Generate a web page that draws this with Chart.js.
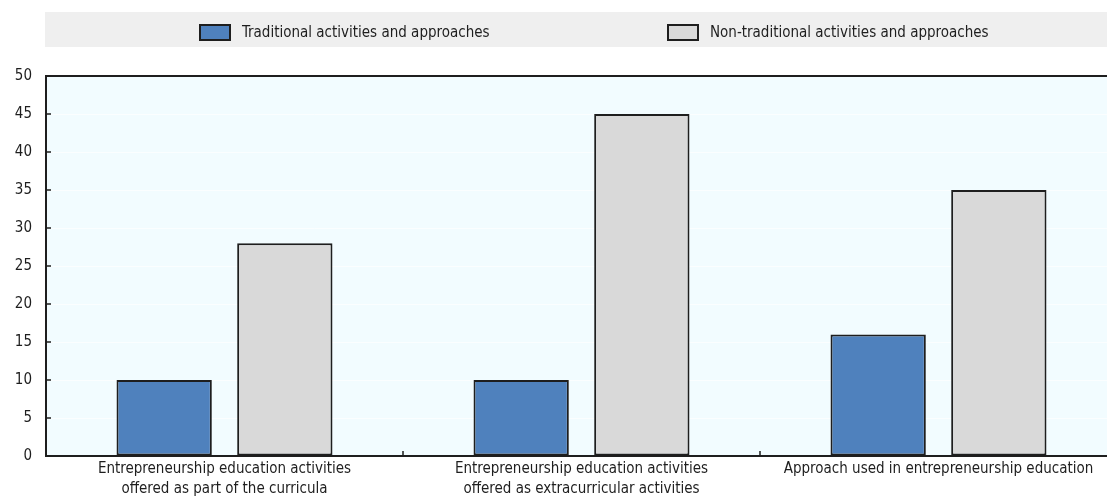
<!DOCTYPE html>
<html>
<head>
<meta charset="utf-8">
<script src="https://cdn.jsdelivr.net/npm/chart.js@4/dist/chart.umd.min.js"></script>
<style>
  html, body { margin: 0; padding: 0; background: #fff; overflow: hidden; }
  #wrap { width: 1107px; height: 499px; overflow: hidden; }
</style>
</head>
<body>
<div id="wrap"><canvas id="chart" width="1117" height="499"></canvas></div>
<script>
// --- data ---
const categories = [
  ['Entrepreneurship education activities', 'offered as part of the curricula'],
  ['Entrepreneurship education activities', 'offered as extracurricular activities'],
  ['Approach used in entrepreneurship education']
];
const seriesNames = ['Traditional activities and approaches', 'Non-traditional activities and approaches'];
const traditional = [10, 10, 16];
const nonTraditional = [28, 45, 35];
const yMin = 0, yMax = 50, yStep = 5;

const FONT = "'Liberation Sans Narrow', 'Arial Narrow', 'DejaVu Sans Condensed', sans-serif";
const INK = '#1e1e1e';
const PLOT_BG = '#f2fcff';

Chart.defaults.font.family = FONT;
Chart.defaults.font.size = 15;
Chart.defaults.color = INK;

// background band + custom legend + plot fill
const decor = {
  id: 'decor',
  beforeDraw(chart) {
    const { ctx, chartArea: a } = chart;
    ctx.save();
    ctx.fillStyle = '#efefef';
    ctx.fillRect(45, 12, chart.width - 45, 35);
    ctx.fillStyle = PLOT_BG;
    ctx.fillRect(a.left, a.top, a.right - a.left, a.bottom - a.top);

    ctx.font = '15px ' + FONT;
    ctx.textBaseline = 'middle';
    const xs = [200, 668];
    chart.data.datasets.forEach((ds, i) => {
      ctx.fillStyle = ds.backgroundColor;
      ctx.fillRect(xs[i], 25, 30, 15);
      ctx.strokeStyle = INK;
      ctx.lineWidth = 2;
      ctx.strokeRect(xs[i], 25, 30, 15);
      ctx.fillStyle = INK;
      ctx.fillText(ds.label, xs[i] + 42, 33);
    });
    ctx.restore();
  },
  afterDraw(chart) {
    const { ctx, chartArea: a } = chart;
    const y = chart.scales.y, x = chart.scales.x;
    ctx.save();
    ctx.strokeStyle = INK;
    ctx.lineWidth = 2;
    ctx.beginPath();
    // top frame line
    ctx.moveTo(a.left, a.top);
    ctx.lineTo(a.right, a.top);
    ctx.stroke();
    ctx.lineWidth = 1.5;
    ctx.beginPath();
    // inward y ticks
    y.ticks.forEach(t => {
      const py = y.getPixelForValue(t.value);
      ctx.moveTo(a.left, py);
      ctx.lineTo(a.left + 5, py);
    });
    // category separators on the x axis
    for (let i = 1; i < categories.length; i++) {
      const px = (x.getPixelForValue(i - 1) + x.getPixelForValue(i)) / 2;
      ctx.moveTo(px, a.bottom);
      ctx.lineTo(px, a.bottom - 5);
    }
    ctx.stroke();
    ctx.restore();
  }
};

new Chart(document.getElementById('chart'), {
  type: 'bar',
  data: {
    labels: categories,
    datasets: [{
      label: seriesNames[0],
      data: traditional,
      backgroundColor: '#4f81bd',
      borderColor: INK,
      borderWidth: 2,
      borderSkipped: false
    }, {
      label: seriesNames[1],
      data: nonTraditional,
      backgroundColor: '#d9d9d9',
      borderColor: INK,
      borderWidth: 2,
      borderSkipped: false
    }]
  },
  options: {
    responsive: false,
    animation: false,
    layout: { padding: { top: 76, left: 0, right: 0, bottom: 0 } },
    datasets: { bar: { categoryPercentage: 0.676, barPercentage: 0.79 } },
    scales: {
      x: {
        grid: { display: false, drawTicks: false },
        border: { display: true, color: INK, width: 2 },
        ticks: { padding: 3, color: INK, font: { size: 15, lineHeight: 1.35 }, maxRotation: 0, autoSkip: false },
        afterFit(scale) { scale.height = 43; }
      },
      y: {
        min: yMin, max: yMax,
        grid: { color: '#fbfeff', drawTicks: false },
        border: { display: true, color: INK, width: 2 },
        ticks: { stepSize: yStep, padding: 14, color: INK, font: { size: 15 } },
        afterFit(scale) { scale.width = 46; }
      }
    },
    plugins: {
      legend: { display: false },
      tooltip: { enabled: false }
    }
  },
  plugins: [decor]
});
</script>
</body>
</html>
